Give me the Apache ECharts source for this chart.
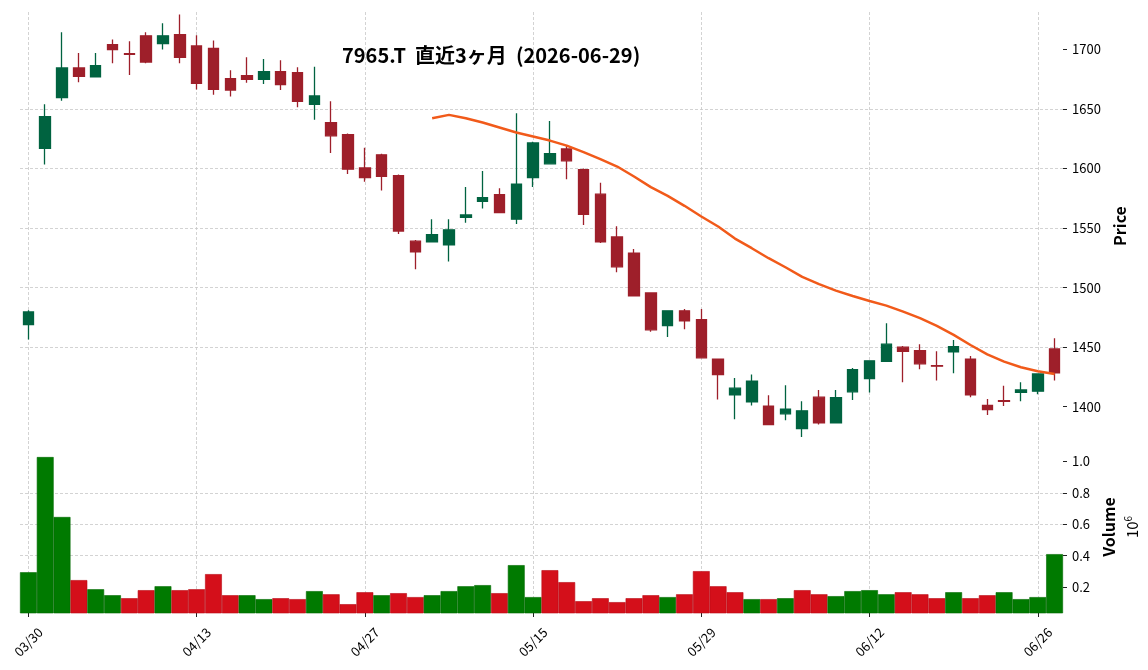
<!DOCTYPE html>
<html>
<head>
<meta charset="utf-8">
<script src="https://cdn.jsdelivr.net/npm/echarts@6/dist/echarts.min.js"></script>
<style>
  html, body { margin: 0; padding: 0; background: #fff; }
  #chart { width: 1148px; height: 670px; }
</style>
</head>
<body>
<div id="chart"></div>
<script>
// 7965.T 直近3ヶ月 日足
var dates = [
  '03/30','03/31','04/01','04/02','04/03','04/06','04/07','04/08','04/09','04/10',
  '04/13','04/14','04/15','04/16','04/17','04/20','04/21','04/22','04/23','04/24',
  '04/27','04/28','04/30','05/01','05/07','05/08','05/11','05/12','05/13','05/14',
  '05/15','05/18','05/19','05/20','05/21','05/22','05/25','05/26','05/27','05/28',
  '05/29','06/01','06/02','06/03','06/04','06/05','06/08','06/09','06/10','06/11',
  '06/12','06/15','06/16','06/17','06/18','06/19','06/22','06/23','06/24','06/25',
  '06/26','06/29'
];
var opens = [
  1469, 1617, 1659.5, 1684.5, 1677, 1704, 1696.5, 1711.5, 1705, 1712.5,
  1703, 1701, 1675.5, 1678, 1675, 1681.5, 1680.5, 1654, 1638.5, 1628.5,
  1600.5, 1611.5, 1594, 1539, 1538.5, 1536, 1559, 1572.5, 1578, 1557.5,
  1592.5, 1604, 1616.5, 1599, 1578.5, 1542.5, 1529, 1495.5, 1468, 1480.5,
  1473, 1440, 1410, 1404, 1400.5, 1394, 1381.5, 1408, 1386.5, 1412.5,
  1423.5, 1438, 1450, 1447, 1434.5, 1446, 1440, 1401, 1405, 1412,
  1413, 1448.5
];
var closes = [
  1479.5, 1643.5, 1684.5, 1677.5, 1686.5, 1700, 1696, 1689.5, 1711.5, 1693.5,
  1671.5, 1666.5, 1666, 1675, 1681.5, 1670.5, 1656.5, 1661, 1627.5, 1599.5,
  1592.5, 1593.5, 1547.5, 1530, 1544.5, 1548.5, 1561, 1575.5, 1563, 1587,
  1621.5, 1612.5, 1606.5, 1561.5, 1538.5, 1517.5, 1493, 1464.5, 1480.5, 1472,
  1441, 1427, 1415.5, 1421.5, 1385, 1398, 1396.5, 1386.5, 1407.5, 1431,
  1438.5, 1452.5, 1446.5, 1436, 1434, 1450.5, 1410, 1397.5, 1404.5, 1414,
  1427.5, 1428.5
];
var lows = [
  1456.5, 1603.5, 1657, 1672.5, 1676.5, 1688.5, 1678.5, 1688.5, 1700, 1688.5,
  1666.5, 1662, 1660.5, 1672, 1671, 1666, 1651.5, 1641, 1613, 1595.5,
  1589, 1581.5, 1545, 1515.5, 1538, 1522, 1554.5, 1566.5, 1562.5, 1553.5,
  1584.5, 1603.5, 1591, 1552.5, 1537.5, 1513, 1492.5, 1463, 1458.5, 1465,
  1440.5, 1406, 1389.5, 1401, 1384.5, 1388.5, 1374.5, 1385, 1386, 1405.5,
  1412, 1437.5, 1420.5, 1431.5, 1422, 1428, 1408, 1393, 1400.5, 1404.5,
  1410.5, 1422
];
var highs = [
  1481, 1654, 1714.5, 1697, 1697, 1708.5, 1707, 1714.5, 1722, 1729.5,
  1712, 1707.5, 1682.5, 1693.5, 1692, 1691, 1685, 1685.5, 1656.5, 1629.5,
  1617.5, 1612.5, 1595, 1540, 1557.5, 1557.5, 1584.5, 1598, 1583.5, 1646.5,
  1622.5, 1640, 1619.5, 1600, 1588, 1551.5, 1532.5, 1496, 1481, 1482,
  1482, 1440.5, 1424, 1427, 1409.5, 1418, 1404.5, 1414, 1414, 1432.5,
  1439, 1470, 1451, 1452.5, 1446.5, 1456, 1442.5, 1406.5, 1417.5, 1420.5,
  1428, 1457.5
];
var volumes = [
  295000, 1027000, 646000, 245000, 187000, 149000, 130000, 181000, 206000, 181000,
  187000, 283000, 149000, 149000, 124000, 130000, 124000, 175000, 155000, 92000,
  168000, 149000, 162000, 137000, 149000, 175000, 206000, 213000, 162000, 340000,
  137000, 308000, 232000, 111000, 130000, 105000, 130000, 149000, 137000, 155000,
  302000, 206000, 168000, 124000, 124000, 130000, 181000, 155000, 143000, 175000,
  181000, 155000, 168000, 155000, 130000, 168000, 130000, 149000, 168000, 124000,
  137000, 410000
];
// 25日移動平均 (最初の24本は無し)
var ma25 = [
  null, null, null, null, null, null, null, null, null, null,
  null, null, null, null, null, null, null, null, null, null,
  null, null, null, null, 1642.3, 1645.1, 1642.3, 1638.7, 1634.5, 1630.3,
  1626.9, 1623.5, 1619.3, 1613.8, 1607.9, 1601.7, 1593.3, 1584.4, 1577.1, 1568.7,
  1559.7, 1551.3, 1541.2, 1533.1, 1524.7, 1517.1, 1509, 1502.9, 1497.5, 1493,
  1488.8, 1484.9, 1479.8, 1474.3, 1467.8, 1460.3, 1451.8, 1444, 1437.8, 1433.1,
  1429.7, 1427.5
];
var priceTicks = [1400, 1450, 1500, 1550, 1600, 1650, 1700];
var volumeTicks = [200000, 400000, 600000, 800000, 1000000];

var FONT = '"Noto Sans CJK JP", "Noto Sans", sans-serif';
var UP = '#006340', DOWN = '#9e1f2a';
var VOL_UP = '#007a00', VOL_DOWN = '#d40f1a';

var candles = [];
var volBars = [];
for (var i = 0; i < dates.length; i++) {
    candles.push([opens[i], closes[i], lows[i], highs[i]]);
    var up = i === 0 ? closes[i] >= opens[i] : closes[i] >= closes[i - 1];
    volBars.push({
        value: volumes[i],
        itemStyle: {color: up ? VOL_UP : VOL_DOWN, borderColor: up ? '#006a00' : '#b80c16'}
    });
}

var everyTen = function (idx) { return idx % 10 === 0; };
var gridLine = {show: true, lineStyle: {color: '#c8c8c8', type: [3, 2], width: 0.8}};

var chart = echarts.init(document.getElementById('chart'));
var option = {
    animation: false,
    backgroundColor: '#fff',
    textStyle: {fontFamily: FONT},
    title: {
        text: '7965.T  直近3ヶ月  (2026-06-29)',
        left: 337,
        top: 40,
        textStyle: {fontFamily: FONT, fontSize: 20, fontWeight: 'bold', color: '#000'}
    },
    grid: [
        {left: 20, width: 1043, top: 12, height: 428, containLabel: false, outerBoundsMode: 'none'},
        {left: 20, width: 1043, top: 441, height: 172, containLabel: false, outerBoundsMode: 'none'}
    ],
    xAxis: [
        {
            type: 'category', gridIndex: 0, data: dates,
            axisLine: {show: false}, axisTick: {show: false}, axisLabel: {show: false},
            splitLine: echarts.util.merge({interval: everyTen, alignWithLabel: true}, gridLine)
        },
        {
            type: 'category', gridIndex: 1, data: dates,
            axisLine: {show: false},
            axisTick: {show: true, interval: everyTen, alignWithLabel: true, length: 4,
                lineStyle: {color: '#222'}},
            axisLabel: {interval: everyTen, rotate: 45, align: 'center', verticalAlign: 'middle',
                margin: 29, fontSize: 13, color: '#000', fontFamily: FONT},
            splitLine: echarts.util.merge({interval: everyTen, alignWithLabel: true}, gridLine)
        }
    ],
    yAxis: [
        {
            type: 'value', gridIndex: 0, position: 'right', min: 1372, max: 1731.5,
            name: 'Price', nameLocation: 'middle', nameRotate: 90, nameGap: 44,
            nameTextStyle: {fontFamily: FONT, fontSize: 16, fontWeight: 'bold', color: '#000'},
            axisLine: {show: false},
            axisTick: {show: true, length: 4, customValues: priceTicks, lineStyle: {color: '#222'}},
            axisLabel: {customValues: priceTicks, margin: 9, fontSize: 13, color: '#000', fontFamily: FONT,
                formatter: function (v) { return String(v); }},
            splitLine: echarts.util.merge({showMinLine: false, showMaxLine: false}, gridLine)
        },
        {
            type: 'value', gridIndex: 1, position: 'right', min: 36000, max: 1129000,
            name: '{a|Volume}\n{b|10}{c|6}', nameLocation: 'middle', nameRotate: 90, nameGap: 22,
            nameTextStyle: {
                fontFamily: FONT, color: '#000',
                rich: {
                    a: {fontSize: 16, fontWeight: 'bold', lineHeight: 23, fontFamily: FONT},
                    b: {fontSize: 15, lineHeight: 23, fontFamily: FONT},
                    c: {fontSize: 10, lineHeight: 23, verticalAlign: 'top', padding: [3, 0, 0, 0], fontFamily: FONT}
                }
            },
            axisLine: {show: false},
            axisTick: {show: true, length: 4, customValues: volumeTicks, lineStyle: {color: '#222'}},
            axisLabel: {customValues: volumeTicks, margin: 9, fontSize: 13, color: '#000', fontFamily: FONT,
                formatter: function (v) { return (v / 1e6).toFixed(1); }},
            splitLine: echarts.util.merge({showMinLine: false, showMaxLine: false}, gridLine)
        }
    ],
    series: [
        {
            type: 'candlestick', xAxisIndex: 0, yAxisIndex: 0,
            data: candles,
            barWidth: 11,
            itemStyle: {color: UP, color0: DOWN, borderColor: UP, borderColor0: DOWN, borderWidth: 1.3}
        },
        {
            type: 'line', xAxisIndex: 0, yAxisIndex: 0,
            data: ma25, showSymbol: false, symbol: 'none',
            lineStyle: {color: '#f15a1a', width: 2.5}
        },
        {
            type: 'bar', xAxisIndex: 1, yAxisIndex: 1,
            data: volBars,
            barWidth: '100%', barCategoryGap: '0%',
            itemStyle: {borderWidth: 0.6}
        }
    ]
};
chart.setOption(option);
</script>
</body>
</html>
